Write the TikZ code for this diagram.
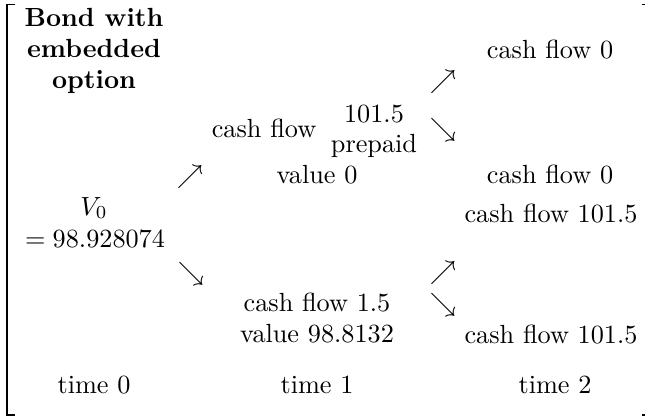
\documentclass[tikz,border=0pt]{standalone}
\usepackage{amsmath}
\begin{document}
\begin{tikzpicture}[x=0.381pt,y=-0.381pt,
  txt/.style={anchor=base,inner sep=0pt,outer sep=0pt},
  arr/.style={anchor=center,inner sep=0pt,outer sep=0pt},
  brk/.style={line width=0.75pt}]
\useasboundingbox (0,0) rectangle (646,419);
% bracket
\draw[brk] (15,4.5) -- (7,4.5) -- (7,415) -- (15,415);
\draw[line width=0.75pt] (642,4.5) -- (644.5,4.5);
\draw[line width=0.75pt] (642,415) -- (644.5,415);
% column 0
\node[txt,font=\bfseries] (t1) at (94,27) {Bond with};
\node[txt,font=\bfseries] (t2) at (94,57.5) {embedded};
\node[txt,font=\bfseries] (t3) at (94,88) {option};
\node[txt] (v0) at (94,215) {$V_0$};
\node[txt] (v0b) at (95,247) {$=98.928074$};
\node[txt] (time0) at (94,393) {time 0};
% arrows col 0
\node[arr] (a1) at (190,177) {$\nearrow$};
\node[arr] (a2) at (191,274) {$\searrow$};
% column 1
\node[txt] (u1) at (264,137) {cash flow};
\node[txt] (u2) at (374,122) {101.5};
\node[txt] (u3) at (374,152) {prepaid};
\node[txt] (u4) at (317,183) {value 0};
\node[txt] (d1) at (317,311) {cash flow 1.5};
\node[txt] (d2) at (317,342) {value 98.8132};
\node[txt] (time1) at (317,393) {time 1};
% arrows col 1
\node[arr] (b1) at (443,82) {$\nearrow$};
\node[arr] (b2) at (443,130) {$\searrow$};
\node[arr] (c1) at (443,273) {$\nearrow$};
\node[arr] (c2) at (443,305) {$\searrow$};
% column 2
\node[txt] (w1) at (550,58) {cash flow 0};
\node[txt] (w2) at (550,183) {cash flow 0};
\node[txt] (w3) at (551,222) {cash flow 101.5};
\node[txt] (w4) at (551,343) {cash flow 101.5};
\node[txt] (time2) at (555,393) {time 2};
\end{tikzpicture}
\end{document}
